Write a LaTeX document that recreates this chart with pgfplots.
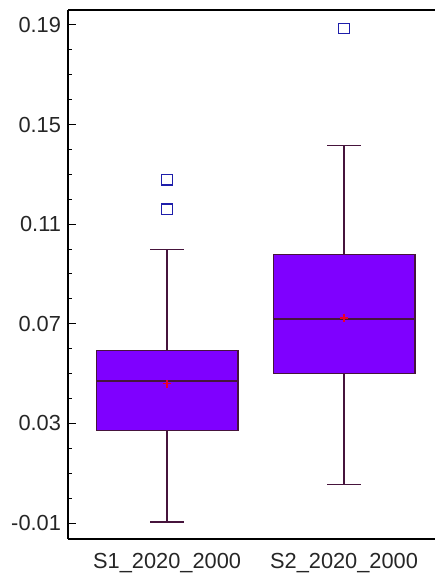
\documentclass[border=0pt]{standalone}
\usepackage{fontspec}
\setmainfont{Liberation Sans}
\usepackage{pgfplots}
\pgfplotsset{compat=1.18}
\usepgfplotslibrary{statistics}
\definecolor{boxfill}{RGB}{127,0,255}
\definecolor{boxline}{RGB}{70,20,60}
\definecolor{outl}{RGB}{30,30,170}
\begin{document}
\begin{tikzpicture}
\begin{axis}[name=ax, scale only axis, width=183.5pt, height=264.5pt,
  xmin=0.44, xmax=2.514, ymin=-0.0164, ymax=0.196,
  boxplot/draw direction=y,
  axis x line=box, axis y line=left,
  axis line style={-, line width=0.8pt, black},
  xtick={1,2}, xticklabels={S1\_2020\_2000,S2\_2020\_2000},
  xtick style={draw=none},
  xticklabel style={yshift=-3.5pt},
  ytick={-0.01,0.03,0.07,0.11,0.15,0.19},
  minor ytick={0.0,0.01,0.02,0.04,0.05,0.06,0.08,0.09,0.10,0.12,0.13,0.14,0.16,0.17,0.18},
  ytick pos=left,
  tick align=inside, major tick length=4pt, minor tick length=2pt,
  ytick style={line width=0.5pt, black},
  minor y tick style={line width=0.5pt, black},
  yticklabel style={/pgf/number format/.cd, fixed, fixed zerofill, precision=2, assume math mode=true},
  tick label style={font=\fontsize{10.9}{13}\selectfont, text=black!85},
  boxplot/every median/.style={draw=boxline, line width=0.7pt},
]
\addplot[boxplot prepared={draw position=1, lower whisker=-0.0096, lower quartile=0.0272,
   median=0.0471, upper quartile=0.0594, upper whisker=0.0998,
   box extend=0.8, whisker extend=0.19},
   fill=boxfill, draw=boxline, line width=0.7pt] coordinates {};
\addplot[boxplot prepared={draw position=2, lower whisker=0.0054, lower quartile=0.0500,
   median=0.0720, upper quartile=0.0978, upper whisker=0.1416,
   box extend=0.8, whisker extend=0.19},
   fill=boxfill, draw=boxline, line width=0.7pt] coordinates {};
\addplot[only marks, mark=+, mark size=2pt, draw=red!85!boxfill, line width=0.7pt]
  coordinates {(1,0.046) (2,0.0724)};
\addplot[only marks, mark=square, mark size=2.6pt, draw=outl, line width=0.6pt]
  coordinates {(1,0.1278) (1,0.116) (2,0.1885)};
\end{axis}
\pgfresetboundingbox
\path ([shift={(-34pt,-18.5pt)}]ax.south west) rectangle ([shift={(0pt,5pt)}]ax.north east);
\end{tikzpicture}
\end{document}
